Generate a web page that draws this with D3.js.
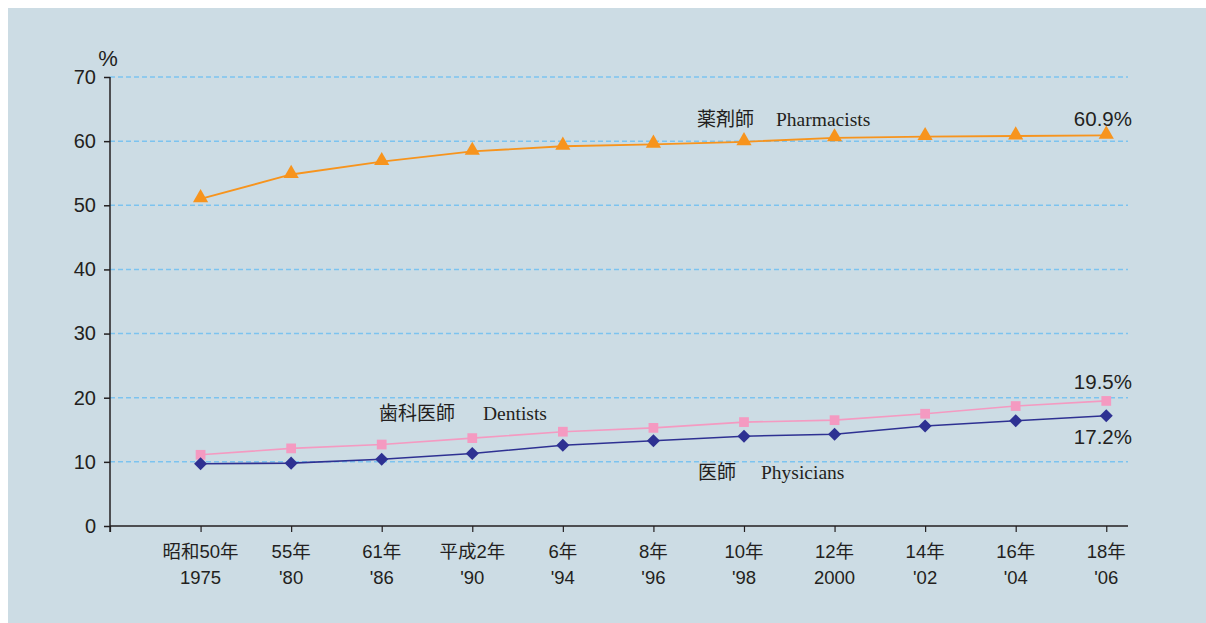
<!DOCTYPE html>
<html><head><meta charset="utf-8">
<script src="https://cdn.jsdelivr.net/npm/d3@7"></script>
<style>
html,body{margin:0;padding:0;background:#fff;}
svg{display:block;}
text{fill:#231f20;}
</style></head>
<body>
<svg id="chart" width="1206" height="623"></svg>
<script>
const yearsJa = ["昭和50年","55年","61年","平成2年","6年","8年","10年","12年","14年","16年","18年"];
const yearsEn = ["1975","'80","'86","'90","'94","'96","'98","2000","'02","'04","'06"];
const pharmacists = [51.0, 54.8, 56.8, 58.4, 59.2, 59.5, 59.9, 60.5, 60.7, 60.8, 60.9];
const dentists = [11.1, 12.1, 12.7, 13.7, 14.7, 15.3, 16.2, 16.5, 17.5, 18.7, 19.5];
const physicians = [9.7, 9.8, 10.4, 11.3, 12.6, 13.3, 14.0, 14.3, 15.6, 16.4, 17.2];
const yTicks = [0,10,20,30,40,50,60,70];

const svg = d3.select("#chart");
svg.append("rect").attr("x",8).attr("y",8).attr("width",1198).attr("height",615).attr("fill","#ccdce4");

const x = d3.scaleLinear().domain([-1, 10.24]).range([110, 1128]);
const y = d3.scaleLinear().domain([0,70]).range([526, 77]);
const sans = "'Liberation Sans', Arial, 'Noto Sans CJK JP', sans-serif";
const cjk = "'Noto Sans CJK JP', sans-serif";
const serif = "'Liberation Serif', 'Times New Roman', serif";

// gridlines
svg.append("g").selectAll("line").data(yTicks.filter(d=>d>0)).join("line")
  .attr("x1",110).attr("x2",1128).attr("y1",d=>y(d)).attr("y2",d=>y(d))
  .attr("stroke","#7cc3ef").attr("stroke-width",1.5).attr("stroke-dasharray","5,3");

// y axis
const yAxis = svg.append("g").attr("transform","translate(110,0)")
  .call(d3.axisLeft(y).tickValues(yTicks).tickSize(6).tickPadding(8));
yAxis.select(".domain").remove();
yAxis.selectAll(".tick line").attr("stroke","#231f20").attr("stroke-width",1.5);
yAxis.selectAll("text").attr("font-family",sans).attr("font-size",20).attr("fill","#231f20");
svg.append("line").attr("x1",110).attr("x2",110).attr("y1",y(70)).attr("y2",532)
  .attr("stroke","#231f20").attr("stroke-width",1.5);
svg.append("text").attr("x",108).attr("y",66).attr("text-anchor","middle")
  .attr("font-family",sans).attr("font-size",22).text("%");

// x axis
const idx = d3.range(-1, 11);
const xAxis = svg.append("g").attr("transform","translate(0,526)")
  .call(d3.axisBottom(x).tickValues(idx).tickSize(6).tickFormat(""));
xAxis.select(".domain").attr("d","M110,0H1128").attr("stroke","#231f20").attr("stroke-width",1.5);
xAxis.selectAll(".tick line").attr("stroke","#231f20").attr("stroke-width",1.2);

const lbl = svg.append("g").selectAll("g").data(yearsJa).join("g")
  .attr("transform",(d,i)=>`translate(${x(i)},0)`);
lbl.append("text").attr("y",558).attr("text-anchor","middle")
  .attr("font-family",sans).attr("font-size",18.5).text(d=>d);
lbl.append("text").attr("y",584).attr("text-anchor","middle")
  .attr("font-family",sans).attr("font-size",18.5).text((d,i)=>yearsEn[i]);

// series
const line = d3.line().x((d,i)=>x(i)).y(d=>y(d));
function series(data, color, symbol, size, width, dy, rot){
  svg.append("path").datum(data).attr("d",line).attr("fill","none")
    .attr("stroke",color).attr("stroke-width",width);
  svg.append("g").selectAll("path").data(data).join("path")
    .attr("d",d3.symbol().type(symbol).size(size))
    .attr("transform",(d,i)=>`translate(${x(i)},${y(d)+dy}) rotate(${rot})`)
    .attr("fill",color);
}
series(dentists, "#f49ac1", d3.symbolSquare, 95, 1.6, 0, 0);
series(physicians, "#2e3192", d3.symbolSquare, 85, 1.6, 0, 45);
series(pharmacists, "#f7941d", d3.symbolTriangle, 100, 1.8, -1, 0);

// labels
function label(xj, yb, ja, en, xe){
  svg.append("text").attr("x",xj).attr("y",yb).attr("font-family",cjk).attr("font-size",19).text(ja);
  svg.append("text").attr("x",xe).attr("y",yb).attr("font-family",serif).attr("font-size",19.5).text(en);
}
label(697, 126, "薬剤師", "Pharmacists", 776);
label(379, 420, "歯科医師", "Dentists", 483);
label(698, 479, "医師", "Physicians", 761);

function pct(v, yb){
  svg.append("text").attr("x",1132).attr("y",yb).attr("text-anchor","end")
    .attr("font-family",sans).attr("font-size",20.5).text(v.toFixed(1)+"%");
}
pct(pharmacists[10], 126);
pct(dentists[10], 389);
pct(physicians[10], 444);
</script>
</body></html>
